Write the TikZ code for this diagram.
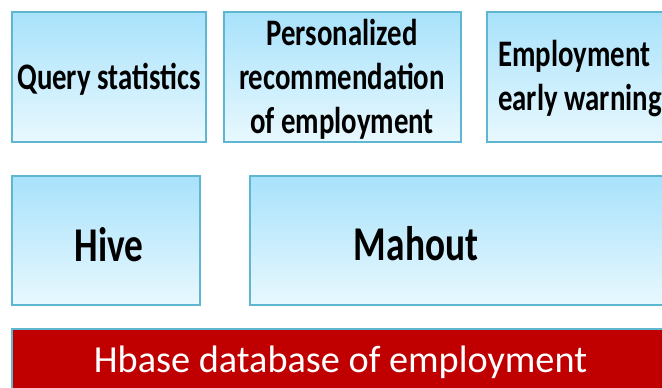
\documentclass[tikz,border=0pt]{standalone}
\usepackage{fontspec}
\setmainfont{Carlito}
\usepackage{graphicx}

\definecolor{boxline}{HTML}{5FB6D0}
\definecolor{boxtop}{HTML}{A8E2FB}
\definecolor{boxbot}{HTML}{E8F8FE}
\definecolor{hbred}{HTML}{C00000}

% text of the blue panels is drawn taller than wide
\newcommand{\tallbox}[2][c]{\scalebox{1}[1.3]{\begin{tabular}{@{}#1@{}}#2\end{tabular}}}

\tikzset{
  panel/.style={draw=boxline, line width=1.5pt, top color=boxtop, bottom color=boxbot, inner sep=0pt},
  smalltext/.style={font=\fontsize{21.6}{25.4}\selectfont\bfseries, inner sep=0pt},
  bigtext/.style={font=\fontsize{28}{33}\selectfont\bfseries, inner sep=0pt},
}

\begin{document}
\begin{tikzpicture}[x=0.75pt,y=0.75pt,yscale=-1,xscale=1]
\clip (0,0) rectangle (662,387);

%Top row
\node [panel, minimum width=145.5pt, minimum height=97.5pt] (query) at (109,77) {};
\node [panel, minimum width=177.75pt, minimum height=97.5pt] (recom) at (342.5,77) {};
\node [panel, minimum width=140.25pt, minimum height=97.5pt] (warn) at (580.5,77) {};
\node [smalltext] (querytext) at (109,81) {\tallbox{Query statistics}};
\node [smalltext] (recomtext) at (342,81) {\tallbox{Personalized\\recommendation\\of employment}};
\node [smalltext, anchor=west] (warntext) at (498,80) {\tallbox[l]{Employment\\early warning}};

%Middle row
\node [panel, minimum width=141pt, minimum height=96.75pt] (hive) at (106,240.5) {};
\node [panel, minimum width=337.5pt, minimum height=96.75pt] (mahout) at (475,240.5) {};
\node [bigtext] (hivetext) at (109,250) {\tallbox{Hive}};
\node [bigtext] (mahouttext) at (416,249) {\tallbox{Mahout}};

%Bottom bar
\node [draw=boxline, line width=1.5pt, fill=hbred, inner sep=0pt, minimum width=492.75pt, minimum height=53.25pt] (hbase) at (340.5,364.5) {};
\node [text=white, inner sep=0pt, font=\fontsize{28.7}{34}\selectfont] (hbasetext) at (340.5,362) {Hbase database of employment};

\end{tikzpicture}
\end{document}
